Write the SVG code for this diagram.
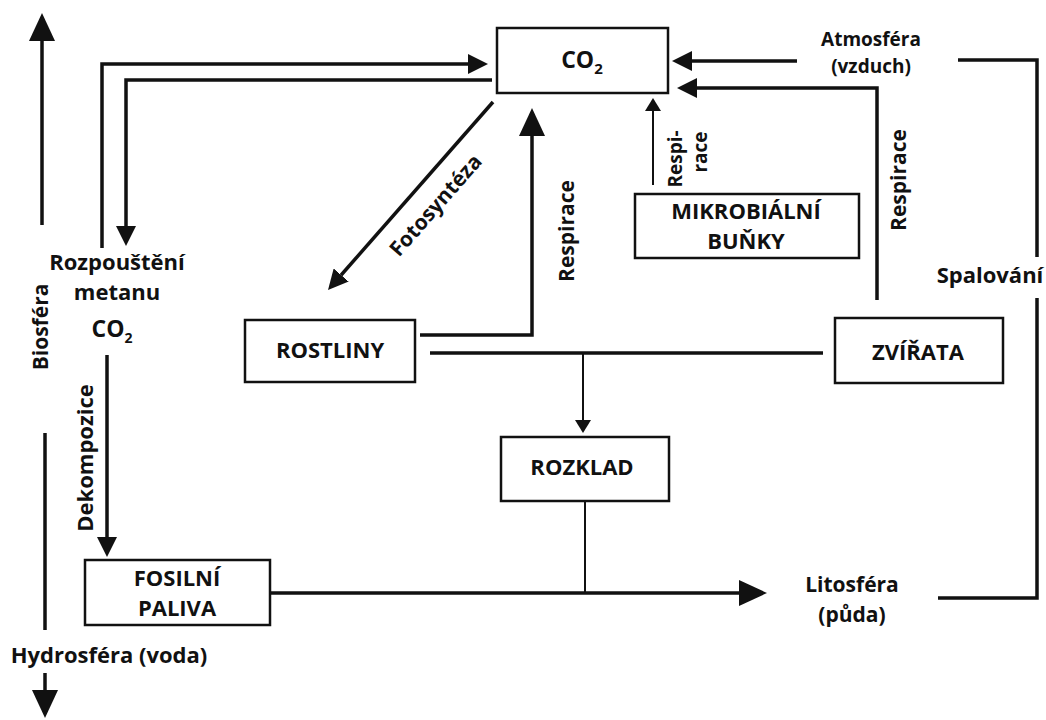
<svg xmlns="http://www.w3.org/2000/svg" width="1046" height="720" viewBox="0 0 1046 720">
<style>
  .box { fill: #fff; stroke: #111; stroke-width: 2.5; }
  .ln { fill: none; stroke: #111; stroke-width: 3.5; }
  .thin { fill: none; stroke: #111; stroke-width: 2; }
  text { font-family: "Open Sans", "Noto Sans", "DejaVu Sans", sans-serif; font-weight: 700; fill: #111; }
  .t { font-size: 22px; text-anchor: middle; }
  .s { font-size: 19px; text-anchor: middle; }
  .m { font-size: 21px; text-anchor: middle; }
  .b { font-size: 22px; text-anchor: middle; }
  .c { font-size: 23px; text-anchor: middle; }
</style>
<defs>
  <marker id="al" markerUnits="userSpaceOnUse" markerWidth="28" markerHeight="26" refX="0" refY="13" orient="auto">
    <path d="M0,0 L28,13 L0,26 z" fill="#111"/>
  </marker>
  <marker id="am" markerUnits="userSpaceOnUse" markerWidth="20" markerHeight="20" refX="0" refY="10" orient="auto">
    <path d="M0,0 L20,10 L0,20 z" fill="#111"/>
  </marker>
  <marker id="as" markerUnits="userSpaceOnUse" markerWidth="13" markerHeight="16" refX="0" refY="8" orient="auto">
    <path d="M0,0 L13,8 L0,16 z" fill="#111"/>
  </marker>
</defs>
<rect width="1046" height="720" fill="#fff"/>

<g id="connectors">
  <path class="ln" d="M102,248 V64 H468" marker-end="url(#am)"/>
  <path class="ln" d="M492,80 H126 V226" marker-end="url(#am)"/>
  <path class="ln" d="M493,102 L341.2,275" marker-end="url(#am)"/>
  <path class="ln" d="M420,335 H532 V136" marker-end="url(#al)"/>
  <path class="ln" d="M797,61 H692" marker-end="url(#am)"/>
  <path class="ln" d="M877,300 V88 H697" marker-end="url(#am)"/>
  <path class="thin" d="M653,185 V111" marker-end="url(#as)"/>
  <path class="ln" d="M430,353 H823"/>
  <path class="thin" d="M583,353 V420" marker-end="url(#as)"/>
  <path class="thin" d="M585,501 V593"/>
  <path class="ln" d="M107,355 V537" marker-end="url(#am)"/>
  <path class="ln" d="M270,593 H739" marker-end="url(#al)"/>
  <path class="ln" d="M958,60 H1037 V257"/>
  <path class="ln" d="M1037,298 V598 H938"/>
  <path class="ln" d="M42,225 V41" marker-end="url(#al)"/>
  <path class="ln" d="M45,433 V630"/>
  <path class="ln" d="M45,673 V690" marker-end="url(#al)"/>
</g>

<g id="co2">
  <rect class="box" x="497" y="28" width="171" height="65"/>
  <text class="c" x="582" y="68">CO<tspan font-size="15" dy="6">2</tspan></text>
</g>
<g id="rostliny">
  <rect class="box" x="245" y="320" width="170" height="62"/>
  <text class="b" x="330" y="358">ROSTLINY</text>
</g>
<g id="mikrobialni">
  <rect class="box" x="635" y="194" width="224" height="64"/>
  <text class="b" x="746" y="219">MIKROBIÁLNÍ</text>
  <text class="b" x="746" y="249">BUŇKY</text>
</g>
<g id="zvirata">
  <rect class="box" x="835" y="318" width="168" height="65"/>
  <text class="b" x="918" y="360">ZVÍŘATA</text>
</g>
<g id="rozklad">
  <rect class="box" x="501" y="437" width="168" height="64"/>
  <text class="b" x="582" y="475">ROZKLAD</text>
</g>
<g id="fosilni">
  <rect class="box" x="85" y="560" width="185" height="65"/>
  <text class="b" x="177" y="586">FOSILNÍ</text>
  <text class="b" x="177" y="616">PALIVA</text>
</g>

<g id="labels">
  <text class="s" x="871" y="46">Atmosféra</text>
  <text class="s" x="871" y="73">(vzduch)</text>
  <text class="m" x="852" y="592">Litosféra</text>
  <text class="m" x="852" y="622">(půda)</text>
  <text class="t" x="990" y="283">Spalování</text>
  <text class="t" x="109" y="663">Hydrosféra (voda)</text>
  <text class="t" x="117" y="270">Rozpouštění</text>
  <text class="t" x="117" y="300">metanu</text>
  <text class="c" x="112" y="337" font-size="21">CO<tspan font-size="14" dy="6">2</tspan></text>
  <text class="m" transform="translate(574,231) rotate(-90)">Respirace</text>
  <text class="m" transform="translate(906,180) rotate(-90)">Respirace</text>
  <text class="s" transform="translate(682,159) rotate(-90)">Respi-</text>
  <text class="s" transform="translate(707,152) rotate(-90)">race</text>
  <text class="m" transform="translate(48,327) rotate(-90)">Biosféra</text>
  <text class="t" transform="translate(93,458) rotate(-90)">Dekompozice</text>
  <text class="m" transform="translate(441,210) rotate(-48.7)">Fotosyntéza</text>
</g>
</svg>
